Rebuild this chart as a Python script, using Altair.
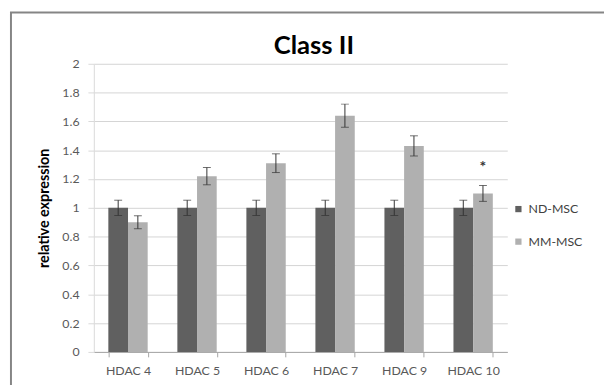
import altair as alt
import pandas as pd

genes = ["HDAC 4", "HDAC 5", "HDAC 6", "HDAC 7", "HDAC 9", "HDAC 10"]
groups = ["ND-MSC", "MM-MSC"]
nd_values = [1.0, 1.0, 1.0, 1.0, 1.0, 1.0]
nd_errors = [0.053, 0.053, 0.053, 0.053, 0.053, 0.053]
mm_values = [0.90, 1.22, 1.31, 1.64, 1.43, 1.10]
mm_errors = [0.045, 0.06, 0.065, 0.08, 0.07, 0.055]
sig_genes = ["HDAC 10"]
sig_groups = ["MM-MSC"]
sig_values = [1.30]
y_ticks = [0, 0.2, 0.4, 0.6, 0.8, 1.0, 1.2, 1.4, 1.6, 1.8, 2.0]
chart_title = "Class II"

rows = []
for g, v, e in zip(genes, nd_values, nd_errors):
    rows.append({"gene": g, "group": groups[0], "value": v, "lo": v - e, "hi": v + e})
for g, v, e in zip(genes, mm_values, mm_errors):
    rows.append({"gene": g, "group": groups[1], "value": v, "lo": v - e, "hi": v + e})
df = pd.DataFrame(rows)
sig_df = pd.DataFrame({"gene": sig_genes, "group": sig_groups, "value": sig_values, "label": ["*"]})

FONT = "Lato"

x_axis = alt.Axis(labelAngle=0, tickBand="extent", tickSize=5, labelPadding=8,
                  labelFontSize=12.5, labelColor="#595959", labelFont=FONT,
                  domainColor="#a6a6a6", tickColor="#a6a6a6", grid=False)
x_scale = alt.Scale(paddingInner=0.43, paddingOuter=0.21)
y_axis = alt.Axis(values=y_ticks, format=".1~f", tickSize=6, labelPadding=9,
                  labelOverlap=False, labelFontSize=12.5, labelColor="#595959",
                  labelFont=FONT, titleFont=FONT, titleFontSize=14.5,
                  titleFontWeight="bold", titleColor="#000000", titlePadding=11,
                  domainColor="#d9d9d9", tickColor="#d9d9d9",
                  gridColor="#d4d4d4", grid=True)
y_scale = alt.Scale(domain=[0, 2], nice=False, zero=True)
Y_TITLE = "relative expression"


def xe():
    return alt.X("gene:N", sort=genes, title=None, scale=x_scale, axis=x_axis)


def ye(field):
    return alt.Y(field, scale=y_scale, axis=y_axis, title=Y_TITLE)


xo_enc = alt.XOffset("group:N", sort=groups, scale=alt.Scale(domain=groups, paddingInner=0, paddingOuter=0))

base = alt.Chart(df)

bars = base.mark_bar().encode(
    x=xe(), xOffset=xo_enc, y=ye("value:Q"),
    color=alt.Color("group:N", sort=groups,
                    scale=alt.Scale(domain=groups, range=["#606060", "#b0b0b0"]),
                    legend=alt.Legend(title=None, orient="none", legendX=424, legendY=141,
                                      symbolType="square", symbolSize=40, symbolStrokeWidth=0,
                                      labelFontSize=12.5, labelFont=FONT, labelColor="#404040",
                                      rowPadding=20, labelOffset=4)),
)

rules = base.mark_rule(color="#333333", strokeWidth=1).encode(
    x=xe(), xOffset=xo_enc, y=ye("lo:Q"), y2="hi:Q",
)
caps_lo = base.mark_tick(color="#333333", size=8, thickness=1).encode(
    x=xe(), xOffset=xo_enc, y=ye("lo:Q"),
)
caps_hi = base.mark_tick(color="#333333", size=8, thickness=1).encode(
    x=xe(), xOffset=xo_enc, y=ye("hi:Q"),
)
stars = alt.Chart(sig_df).mark_text(fontSize=16, font=FONT, fontWeight="bold", color="#333333",
                                    baseline="middle", dy=2).encode(
    x=xe(), xOffset=xo_enc, y=ye("value:Q"), text="label:N",
)
title_mark = alt.Chart(pd.DataFrame({"t": [chart_title]})).mark_text(
    fontSize=26, font=FONT, fontWeight="bold", color="#000000",
    align="center", baseline="alphabetic"
).encode(x=alt.value(223), y=alt.value(-10), text="t:N")

border = alt.Chart(pd.DataFrame({"a": [0]})).mark_rect(
    filled=False, stroke="#858585", strokeWidth=2
).encode(
    x=alt.value(-84), x2=alt.value(620), y=alt.value(-52), y2=alt.value(420)
)

chart = alt.layer(bars, rules, caps_lo, caps_hi, stars, title_mark, border).properties(
    width=419, height=292,
    autosize=alt.AutoSizeParams(type="none"),
    padding={"left": 87, "top": 54, "right": 98, "bottom": 31},
).configure(background="white", view=alt.ViewConfig(stroke=None))

chart.save("out.html", embed_options={"renderer": "svg", "actions": False})
